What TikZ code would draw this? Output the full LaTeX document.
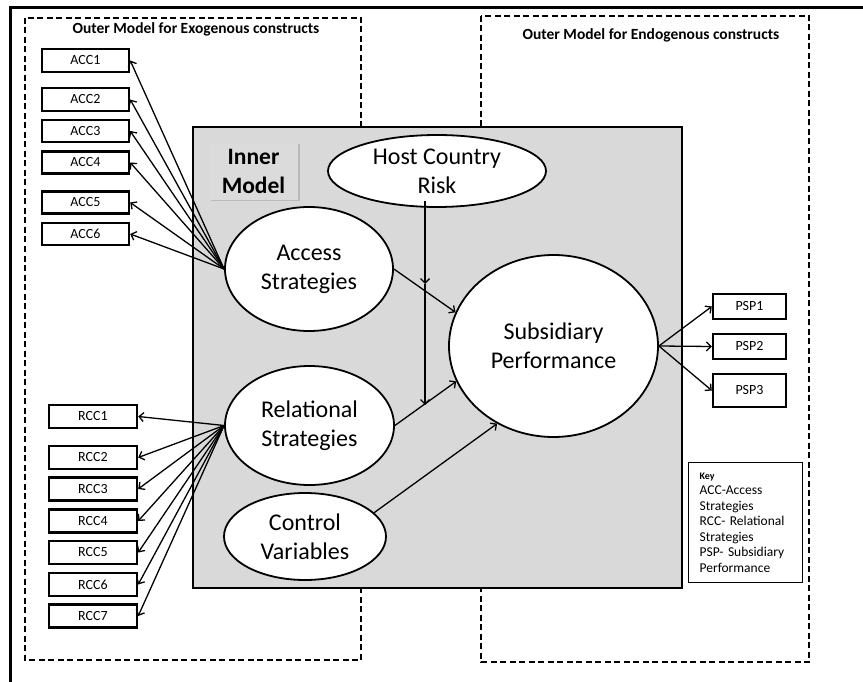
\documentclass[tikz,border=0pt]{standalone}
\usepackage{fontspec}
\setmainfont{Carlito}
\usetikzlibrary{arrows.meta,shapes.geometric,shadows}
\definecolor{panelgray}{RGB}{217,217,217}
\definecolor{labelgray}{RGB}{219,219,219}

\begin{document}
\begin{tikzpicture}[x=1pt,y=-1pt,
  ind/.style={draw, line width=2.4pt, inner sep=0pt, fill=white,
    font=\fontsize{14}{16}\selectfont},
  lv/.style={ellipse, draw, line width=1.8pt, fill=white, inner sep=0pt,
    align=center, font=\fontsize{24}{29}\selectfont},
  link/.style={line width=1.3pt,
    -{Straight Barb[length=4.5pt,width=9pt,line width=1.3pt]}},
  region/.style={draw, line width=2.2pt, dash pattern=on 6pt off 3.5pt},
  title/.style={font=\bfseries\fontsize{15.5}{18}\selectfont}
]
\useasboundingbox (0,0) rectangle (863,682);

% outer frame (top and left edges)
\draw[line width=3pt] (10,682) -- (10,8) -- (863,8);

% outer-model regions
\draw[region] (25,18) rectangle (361,660);
\draw[region] (481,16) rectangle (809,662);
\node[title] (exo) at (196,29) {Outer Model for Exogenous constructs};
\node[title] (endo) at (651,35) {Outer Model for Endogenous constructs};

% inner-model panel
\draw[fill=panelgray, line width=2pt] (193,127) rectangle (682,588);
\node[fill=labelgray, drop shadow={shadow xshift=1.5pt, shadow yshift=-1.5pt, opacity=0.35},
  minimum width=89pt, minimum height=57pt, inner sep=0pt, align=center,
  font=\bfseries\fontsize{23.5}{29}\selectfont] (im) at (253.5,171.5) {Inner\\Model};

% indicators of access strategies
\node[ind, minimum width=87pt, minimum height=23pt] (acc1) at (85.5,60.5) {ACC1};
\node[ind, minimum width=87pt, minimum height=23pt] (acc2) at (85.5,99.5) {ACC2};
\node[ind, minimum width=87pt, minimum height=22pt] (acc3) at (85.5,131) {ACC3};
\node[ind, minimum width=87pt, minimum height=22pt] (acc4) at (85.5,162.5) {ACC4};
\node[ind, minimum width=87pt, minimum height=22pt] (acc5) at (85.5,202.5) {ACC5};
\node[ind, minimum width=87pt, minimum height=22pt] (acc6) at (85.5,234) {ACC6};

% indicators of relational strategies
\node[ind, minimum width=88pt, minimum height=23pt] (rcc1) at (93,416.5) {RCC1};
\node[ind, minimum width=88pt, minimum height=23pt] (rcc2) at (93,457.5) {RCC2};
\node[ind, minimum width=88pt, minimum height=23pt] (rcc3) at (93,489) {RCC3};
\node[ind, minimum width=88pt, minimum height=23pt] (rcc4) at (93,521) {RCC4};
\node[ind, minimum width=88pt, minimum height=23pt] (rcc5) at (93,552.5) {RCC5};
\node[ind, minimum width=88pt, minimum height=23pt] (rcc6) at (93,584.5) {RCC6};
\node[ind, minimum width=88pt, minimum height=23pt] (rcc7) at (93,616) {RCC7};

% indicators of subsidiary performance
\node[ind, minimum width=73pt, minimum height=25pt] (psp1) at (749.5,306.5) {PSP1};
\node[ind, minimum width=73pt, minimum height=25pt] (psp2) at (749.5,346.5) {PSP2};
\node[ind, minimum width=73pt, minimum height=33pt] (psp3) at (749.5,390.5) {PSP3};

% latent variables
\node[lv, minimum width=218pt, minimum height=72pt] (host) at (437,171) {Host Country\\Risk};
\node[lv, minimum width=168pt, minimum height=124pt] (acs) at (309,269) {Access\\Strategies};
\node[lv, minimum width=169pt, minimum height=119pt] (rel) at (309.5,425.5) {Relational\\Strategies};
\node[lv, minimum width=162pt, minimum height=87pt] (ctl) at (305,536.5) {Control\\Variables};
\node[lv, minimum width=209pt, minimum height=182pt] (sub) at (553.5,346) {Subsidiary\\Performance};

% key
\node[draw, line width=1.3pt, anchor=north west, align=left, text width=92pt,
  minimum height=120pt, inner xsep=11pt, inner ysep=5pt,
  font=\fontsize{13.5}{15.5}\selectfont] (key) at (688,462)
  {{\bfseries\fontsize{10}{12}\selectfont Key}\\ACC-Access\\Strategies\\RCC- Relational\\Strategies\\PSP- Subsidiary\\Performance};

% reflective links
\foreach \b in {acc1,acc2,acc3,acc4,acc5,acc6} \draw[link] (acs.west) -- (\b.east);
\foreach \b in {rcc1,rcc2,rcc3,rcc4,rcc5,rcc6,rcc7} \draw[link] (rel.west) -- (\b.east);
\foreach \b in {psp1,psp2,psp3} \draw[link] (sub.east) -- (\b.west);

% structural paths
\draw[link] (acs.east) -- (sub.161);
\draw[link] (rel.east) -- (sub.200);
\draw[link] (ctl.19) -- (sub.234);

% moderating effect of host country risk
\coordinate (mod1) at (425,284);
\coordinate (mod2) at (425,405);
\path (host.south) ++(0,-7) coordinate (hb);
\draw[link] (hb -| mod1) -- (mod1);
\draw[link] (mod1) -- (mod2);
\end{tikzpicture}
\end{document}
